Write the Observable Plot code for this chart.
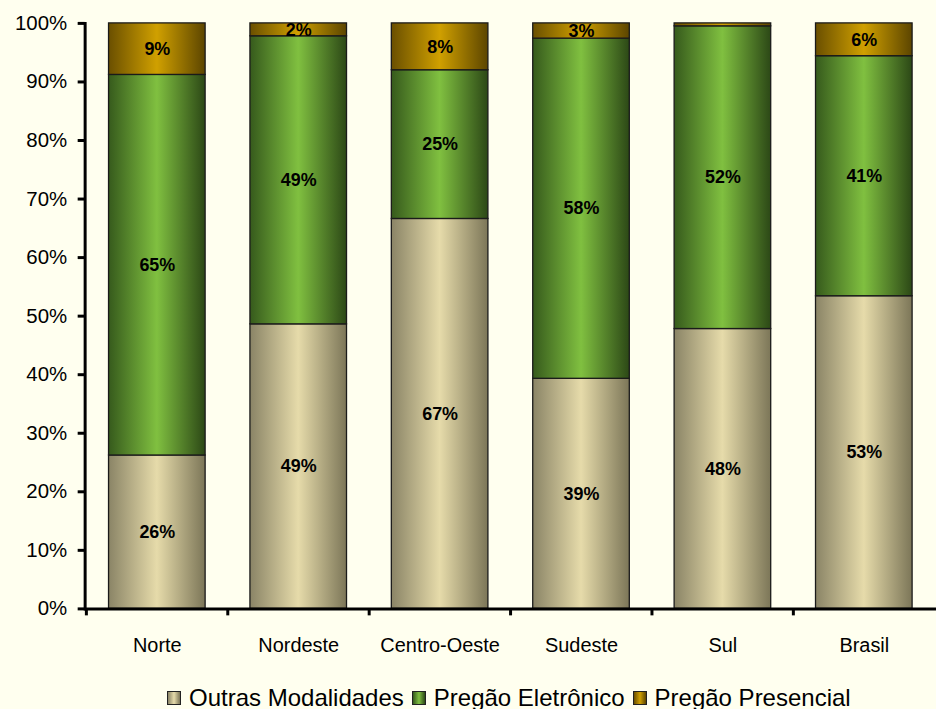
<!DOCTYPE html>
<html><head><meta charset="utf-8">
<script src="https://cdn.jsdelivr.net/npm/d3@7"></script>
<script src="https://cdn.jsdelivr.net/npm/@observablehq/plot@0.6"></script>
<style>
html,body{margin:0;padding:0;background:#FFFFEF;overflow:hidden;font-family:"Liberation Sans",Arial,sans-serif}
#chart svg{display:block;background:#FFFFEF}
#legend{display:flex;align-items:center;height:81px;margin-left:167px;font-size:24px;color:#000;white-space:nowrap}
#legend .item{display:flex;align-items:center;margin-right:8px}
#legend .sw{width:14px;height:14px;border:1px solid #222;margin-right:8px;box-sizing:border-box}
</style></head><body>
<div id="chart"></div>
<div id="legend"></div>
<script>
const regions = ["Norte", "Nordeste", "Centro-Oeste", "Sudeste", "Sul", "Brasil"];
const series = ["Outras Modalidades", "Pregão Eletrônico", "Pregão Presencial"];
const outras = [26.2, 48.6, 66.6, 39.3, 47.8, 53.4];
const eletronico = [65.0, 49.2, 25.4, 58.1, 51.7, 41.0];
const presencial = [8.8, 2.2, 8.0, 2.6, 0.5, 5.6];
const yTicks = [0, 10, 20, 30, 40, 50, 60, 70, 80, 90, 100];
const gradStops = [
  ["#8A8466", "#E6DBAA", "#7C7658"],
  ["#365A1C", "#80C040", "#2C4816"],
  ["#6A4F00", "#D0A000", "#5C4500"]
];

const values = [outras, eletronico, presencial];
const data = [];
regions.forEach((r, i) => series.forEach((s, j) => data.push({region: r, series: s, value: values[j][i]})));
const gid = d => `url(#grad${series.indexOf(d.series)})`;

const chart = Plot.plot({
  width: 940,
  height: 660,
  marginLeft: 85,
  marginRight: 0,
  marginTop: 23,
  marginBottom: 49,
  style: {fontFamily: '"Liberation Sans", Arial, sans-serif', background: "#FFFFEF", color: "#000"},
  x: {domain: regions, paddingInner: 0.32, paddingOuter: 0.16, label: null},
  y: {domain: [0, 100], label: null},
  color: {type: "identity"},
  marks: [
    Plot.barY(data, {x: "region", y: "value", z: "series", fill: gid, stroke: "#1a1a1a", strokeWidth: 1.3, order: series}),
    Plot.text(data, Plot.stackY({x: "region", y: "value", z: "series", order: series,
      filter: d => d.value >= 1, text: d => Math.round(d.value) + "%",
      fontWeight: "bold", fontSize: 18, fill: "#000"})),
    Plot.axisY(yTicks, {tickFormat: d => d + "%", tickSize: 7, tickPadding: 11, fontSize: 20.5, strokeWidth: 3, label: null}),
    Plot.axisX({tickSize: 0, tickPadding: 29, fontSize: 20, label: null}),
    Plot.axisX({tickSize: 7, tickFormat: () => "", dx: -71.25, strokeWidth: 3, label: null}),
    Plot.frame({anchor: "left", strokeWidth: 3}),
    Plot.ruleY([0], {strokeWidth: 3})
  ]
});

const svg = d3.select(chart);
const defs = svg.insert("defs", ":first-child");
gradStops.forEach((st, i) => {
  const g = defs.append("linearGradient").attr("id", "grad" + i).attr("x1", "0").attr("x2", "1").attr("y1", "0").attr("y2", "0");
  g.append("stop").attr("offset", "0%").attr("stop-color", st[0]);
  g.append("stop").attr("offset", "50%").attr("stop-color", st[1]);
  g.append("stop").attr("offset", "100%").attr("stop-color", st[2]);
});
document.getElementById("chart").appendChild(chart);

const legend = document.getElementById("legend");
series.forEach((s, i) => {
  const st = gradStops[i];
  const item = document.createElement("div");
  item.className = "item";
  const sw = document.createElement("span");
  sw.className = "sw";
  sw.style.background = `linear-gradient(to right, ${st[0]}, ${st[1]}, ${st[2]})`;
  const t = document.createElement("span");
  t.textContent = s;
  item.appendChild(sw); item.appendChild(t);
  legend.appendChild(item);
});
</script>
</body></html>
